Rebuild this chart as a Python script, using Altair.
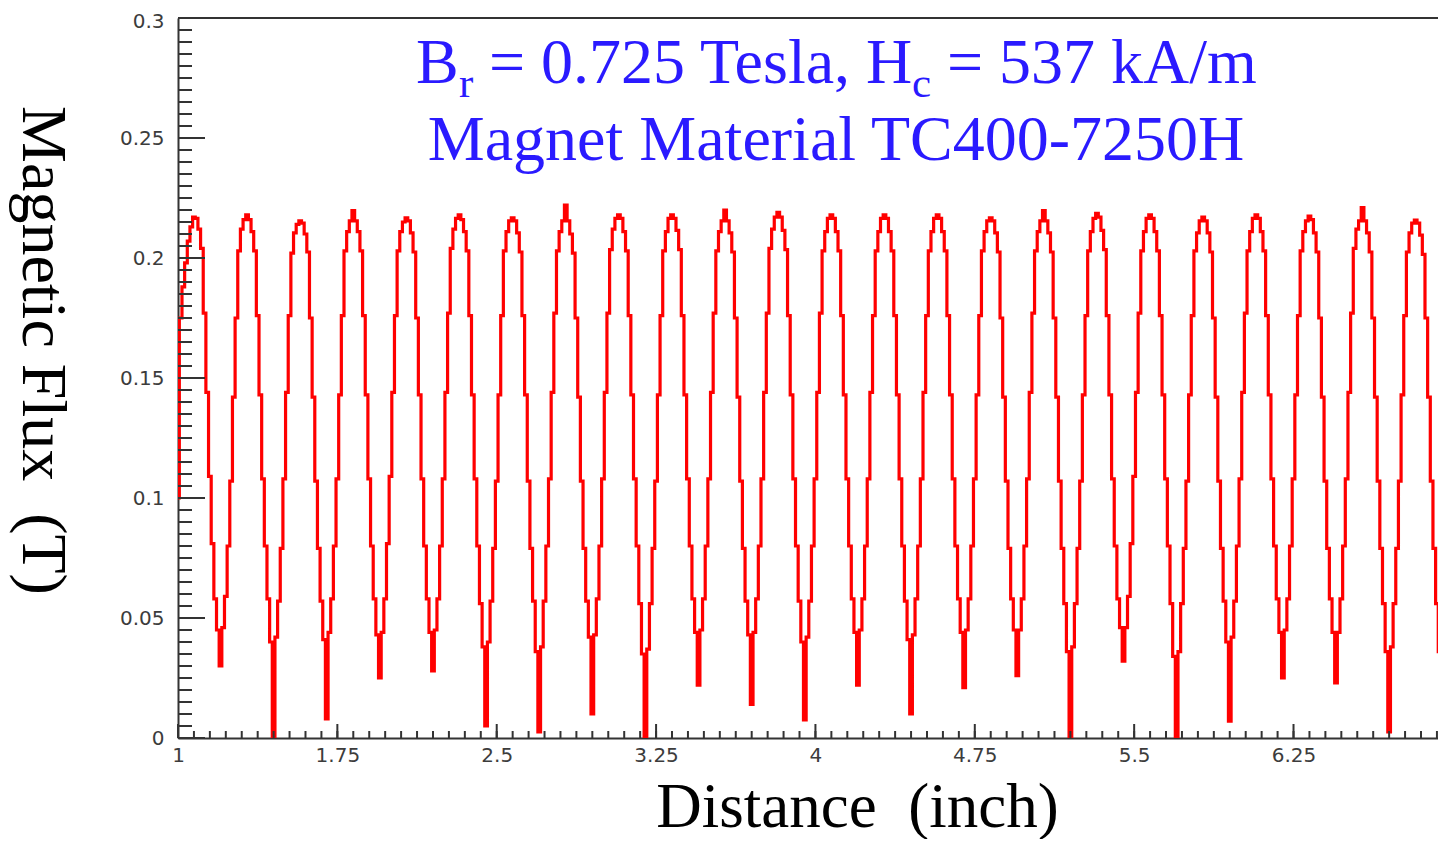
import altair as alt
import pandas as pd

# ---------------- data ----------------
x_start = 1.0
x_step = 0.0125  # sampling interval of the trace (inch)

lead_in = [0.100, 0.175, 0.188, 0.198, 0.207, 0.213]
cycle_00 = [0.217, 0.2165, 0.212, 0.204, 0.177, 0.144, 0.109, 0.081, 0.058, 0.045, 0.030, 0.046, 0.059, 0.080, 0.107, 0.142, 0.175, 0.203, 0.212, 0.216]
cycle_01 = [0.218, 0.216, 0.211, 0.203, 0.176, 0.143, 0.108, 0.080, 0.058, 0.040, 0.000, 0.042, 0.057, 0.079, 0.108, 0.144, 0.176, 0.202, 0.2105, 0.214]
cycle_02 = [0.2155, 0.2145, 0.210, 0.2025, 0.175, 0.142, 0.107, 0.079, 0.057, 0.041, 0.008, 0.044, 0.058, 0.080, 0.108, 0.143, 0.176, 0.203, 0.211, 0.2155]
cycle_03 = [0.2197, 0.2155, 0.211, 0.203, 0.176, 0.143, 0.108, 0.080, 0.058, 0.043, 0.025, 0.044, 0.058, 0.081, 0.109, 0.144, 0.176, 0.203, 0.211, 0.215]
cycle_04 = [0.2167, 0.2155, 0.2105, 0.2025, 0.175, 0.143, 0.108, 0.080, 0.058, 0.044, 0.028, 0.045, 0.058, 0.080, 0.108, 0.144, 0.177, 0.204, 0.212, 0.2165]
cycle_05 = [0.218, 0.216, 0.211, 0.203, 0.176, 0.143, 0.108, 0.080, 0.056, 0.038, 0.005, 0.040, 0.057, 0.079, 0.107, 0.143, 0.176, 0.203, 0.211, 0.2155]
cycle_06 = [0.2167, 0.2155, 0.2105, 0.2025, 0.176, 0.143, 0.107, 0.079, 0.057, 0.036, 0.0025, 0.038, 0.057, 0.080, 0.108, 0.144, 0.177, 0.203, 0.211, 0.2155]
cycle_07 = [0.222, 0.2155, 0.210, 0.202, 0.175, 0.142, 0.107, 0.079, 0.057, 0.042, 0.010, 0.043, 0.058, 0.080, 0.108, 0.144, 0.177, 0.2035, 0.212, 0.2165]
cycle_08 = [0.218, 0.2165, 0.211, 0.203, 0.176, 0.143, 0.108, 0.080, 0.056, 0.035, 0.000, 0.037, 0.056, 0.079, 0.107, 0.143, 0.176, 0.203, 0.211, 0.2165]
cycle_09 = [0.218, 0.2165, 0.2115, 0.2035, 0.176, 0.143, 0.108, 0.080, 0.058, 0.044, 0.022, 0.045, 0.058, 0.080, 0.108, 0.144, 0.177, 0.203, 0.211, 0.2155]
cycle_10 = [0.220, 0.2155, 0.2105, 0.2025, 0.175, 0.142, 0.107, 0.079, 0.057, 0.043, 0.014, 0.044, 0.058, 0.080, 0.108, 0.144, 0.177, 0.204, 0.212, 0.217]
cycle_11 = [0.219, 0.217, 0.2115, 0.2035, 0.176, 0.143, 0.108, 0.080, 0.057, 0.040, 0.0075, 0.042, 0.057, 0.080, 0.108, 0.144, 0.177, 0.203, 0.211, 0.2165]
cycle_12 = [0.218, 0.2165, 0.211, 0.203, 0.176, 0.143, 0.108, 0.080, 0.058, 0.044, 0.022, 0.045, 0.058, 0.080, 0.108, 0.144, 0.176, 0.203, 0.211, 0.2165]
cycle_13 = [0.218, 0.2165, 0.211, 0.203, 0.176, 0.143, 0.108, 0.080, 0.057, 0.041, 0.010, 0.043, 0.058, 0.080, 0.108, 0.144, 0.176, 0.203, 0.211, 0.2165]
cycle_14 = [0.218, 0.2165, 0.211, 0.203, 0.176, 0.143, 0.108, 0.080, 0.058, 0.044, 0.021, 0.045, 0.058, 0.080, 0.108, 0.143, 0.176, 0.203, 0.211, 0.2155]
cycle_15 = [0.2167, 0.2155, 0.2105, 0.2025, 0.175, 0.142, 0.107, 0.079, 0.058, 0.045, 0.026, 0.045, 0.058, 0.080, 0.108, 0.144, 0.177, 0.203, 0.211, 0.2155]
cycle_16 = [0.2197, 0.2155, 0.2105, 0.2025, 0.175, 0.142, 0.107, 0.079, 0.056, 0.036, 0.000, 0.038, 0.056, 0.079, 0.107, 0.143, 0.176, 0.203, 0.211, 0.2165]
cycle_17 = [0.2186, 0.217, 0.2115, 0.2035, 0.176, 0.143, 0.108, 0.080, 0.058, 0.046, 0.032, 0.046, 0.059, 0.081, 0.109, 0.144, 0.177, 0.203, 0.211, 0.2165]
cycle_18 = [0.218, 0.2165, 0.211, 0.203, 0.176, 0.143, 0.108, 0.080, 0.056, 0.034, 0.000, 0.036, 0.056, 0.079, 0.107, 0.143, 0.176, 0.203, 0.2105, 0.2155]
cycle_19 = [0.217, 0.2155, 0.2105, 0.2025, 0.175, 0.142, 0.107, 0.079, 0.057, 0.040, 0.007, 0.042, 0.057, 0.080, 0.108, 0.144, 0.177, 0.203, 0.211, 0.2165]
cycle_20 = [0.218, 0.2165, 0.211, 0.203, 0.176, 0.143, 0.108, 0.080, 0.058, 0.044, 0.025, 0.045, 0.058, 0.080, 0.108, 0.143, 0.176, 0.203, 0.211, 0.2155]
cycle_21 = [0.2175, 0.216, 0.2105, 0.2025, 0.175, 0.142, 0.107, 0.079, 0.058, 0.044, 0.023, 0.044, 0.058, 0.080, 0.108, 0.144, 0.177, 0.204, 0.212, 0.2155]
cycle_22 = [0.221, 0.2155, 0.2105, 0.2025, 0.175, 0.142, 0.107, 0.079, 0.056, 0.036, 0.0025, 0.038, 0.056, 0.079, 0.107, 0.143, 0.176, 0.2025, 0.2105, 0.2145]
cycle_23 = [0.2158, 0.2145, 0.2095, 0.2015, 0.175, 0.142, 0.107, 0.079, 0.056, 0.036, 0.0025, 0.038, 0.056, 0.079, 0.107]

cycles = [cycle_00, cycle_01, cycle_02, cycle_03, cycle_04, cycle_05, cycle_06, cycle_07,
          cycle_08, cycle_09, cycle_10, cycle_11, cycle_12, cycle_13, cycle_14, cycle_15,
          cycle_16, cycle_17, cycle_18, cycle_19, cycle_20, cycle_21, cycle_22, cycle_23]

flux = lead_in + [v for c in cycles for v in c]
distance = [round(x_start + x_step * i, 5) for i in range(len(flux))]

x_tick_labels = [1, 1.75, 2.5, 3.25, 4, 4.75, 5.5, 6.25]
y_tick_labels = [0, 0.05, 0.1, 0.15, 0.2, 0.25, 0.3]
x_minor_ticks = [round(1 + 0.075 * i, 4) for i in range(80)]
y_minor_ticks = [round(0.005 * i, 4) for i in range(61)]

line1_parts = ["B", "r", "= 0.725 Tesla, H", "c", "= 537 kA/m"]
line2_text = "Magnet Material TC400-7250H"
x_title = "Distance \u00a0(inch)"
y_title = "Magnetic Flux \u00a0(T)"

# ---------------- layout / style ----------------
W, H = 1260, 720
SERIF = "Liberation Serif"
BLUE = "#2a1aff"
AXIS_COL = "#333333"

xs = alt.Scale(domain=[1, 6.93], nice=False, zero=False)
ys = alt.Scale(domain=[0, 0.3], nice=False, zero=False)

label_style = dict(labelFont="DejaVu Sans", labelFontSize=20, labelColor="#3c3c3c",
                   labelOverlap=False, labelFlush=False, ticks=False, grid=False,
                   domainColor=AXIS_COL, domainWidth=2, format=".3~f",
                   titleFont=SERIF, titleFontWeight="normal", titleColor="black")

x_axis = alt.Axis(values=x_tick_labels, title=x_title, labelPadding=7,
                  titleFontSize=63, titleX=679, titleY=88, titleAlign="center",
                  titleBaseline="alphabetic", **label_style)
y_axis = alt.Axis(values=y_tick_labels, title=y_title, labelPadding=14,
                  labelOffset={"condition": {"test": "datum.value >= 0.29", "value": 3}, "value": 0},
                  titleFontSize=64, titleAngle=90, titleX=-156, titleY=332,
                  titleAlign="center", titleBaseline="alphabetic", **label_style)

df = pd.DataFrame({"distance": distance, "flux": flux})

line = alt.Chart(df).mark_line(color="#ff0000", strokeWidth=3.2, interpolate="step", clip=True).encode(
    x=alt.X("distance:Q", scale=xs, axis=x_axis),
    y=alt.Y("flux:Q", scale=ys, axis=y_axis),
)

rule_style = dict(color=AXIS_COL, strokeWidth=2)
y_minor = alt.Chart(pd.DataFrame({"flux": y_minor_ticks})).mark_rule(**rule_style).encode(
    y=alt.Y("flux:Q", scale=ys, axis=y_axis), x=alt.value(0), x2=alt.value(14))
y_major = alt.Chart(pd.DataFrame({"flux": y_tick_labels})).mark_rule(**rule_style).encode(
    y=alt.Y("flux:Q", scale=ys, axis=y_axis), x=alt.value(0), x2=alt.value(27))
x_minor = alt.Chart(pd.DataFrame({"distance": x_minor_ticks})).mark_rule(**rule_style).encode(
    x=alt.X("distance:Q", scale=xs, axis=x_axis), y=alt.value(H - 7), y2=alt.value(H))
x_major = alt.Chart(pd.DataFrame({"distance": x_tick_labels})).mark_rule(**rule_style).encode(
    x=alt.X("distance:Q", scale=xs, axis=x_axis), y=alt.value(H - 14), y2=alt.value(H))
top_frame = alt.Chart(pd.DataFrame({"a": [0]})).mark_rule(**rule_style).encode(
    x=alt.value(0), x2=alt.value(W), y=alt.value(0))

one = pd.DataFrame({"a": [0]})


def txt(text, x, y, size, align="left"):
    return alt.Chart(one).mark_text(text=text, align=align, baseline="alphabetic",
                                    font=SERIF, fontSize=size, color=BLUE).encode(
        x=alt.value(x), y=alt.value(y))


annotations = [
    txt(line1_parts[0], 238, 65, 64),
    txt(line1_parts[1], 281, 79, 43),
    txt(line1_parts[2], 311, 65, 64),
    txt(line1_parts[3], 734, 79, 43),
    txt(line1_parts[4], 769, 65, 64),
    txt(line2_text, 658, 142, 64, align="center"),
]

chart = alt.layer(line, y_minor, y_major, x_minor, x_major, top_frame, *annotations).properties(
    width=W, height=H,
    autosize=alt.AutoSizeParams(type="none"),
    padding={"left": 170, "top": 10, "right": 0, "bottom": 101},
    background="white",
).configure_view(stroke=None)

chart.save("out.html", embed_options={"renderer": "svg", "actions": False})
